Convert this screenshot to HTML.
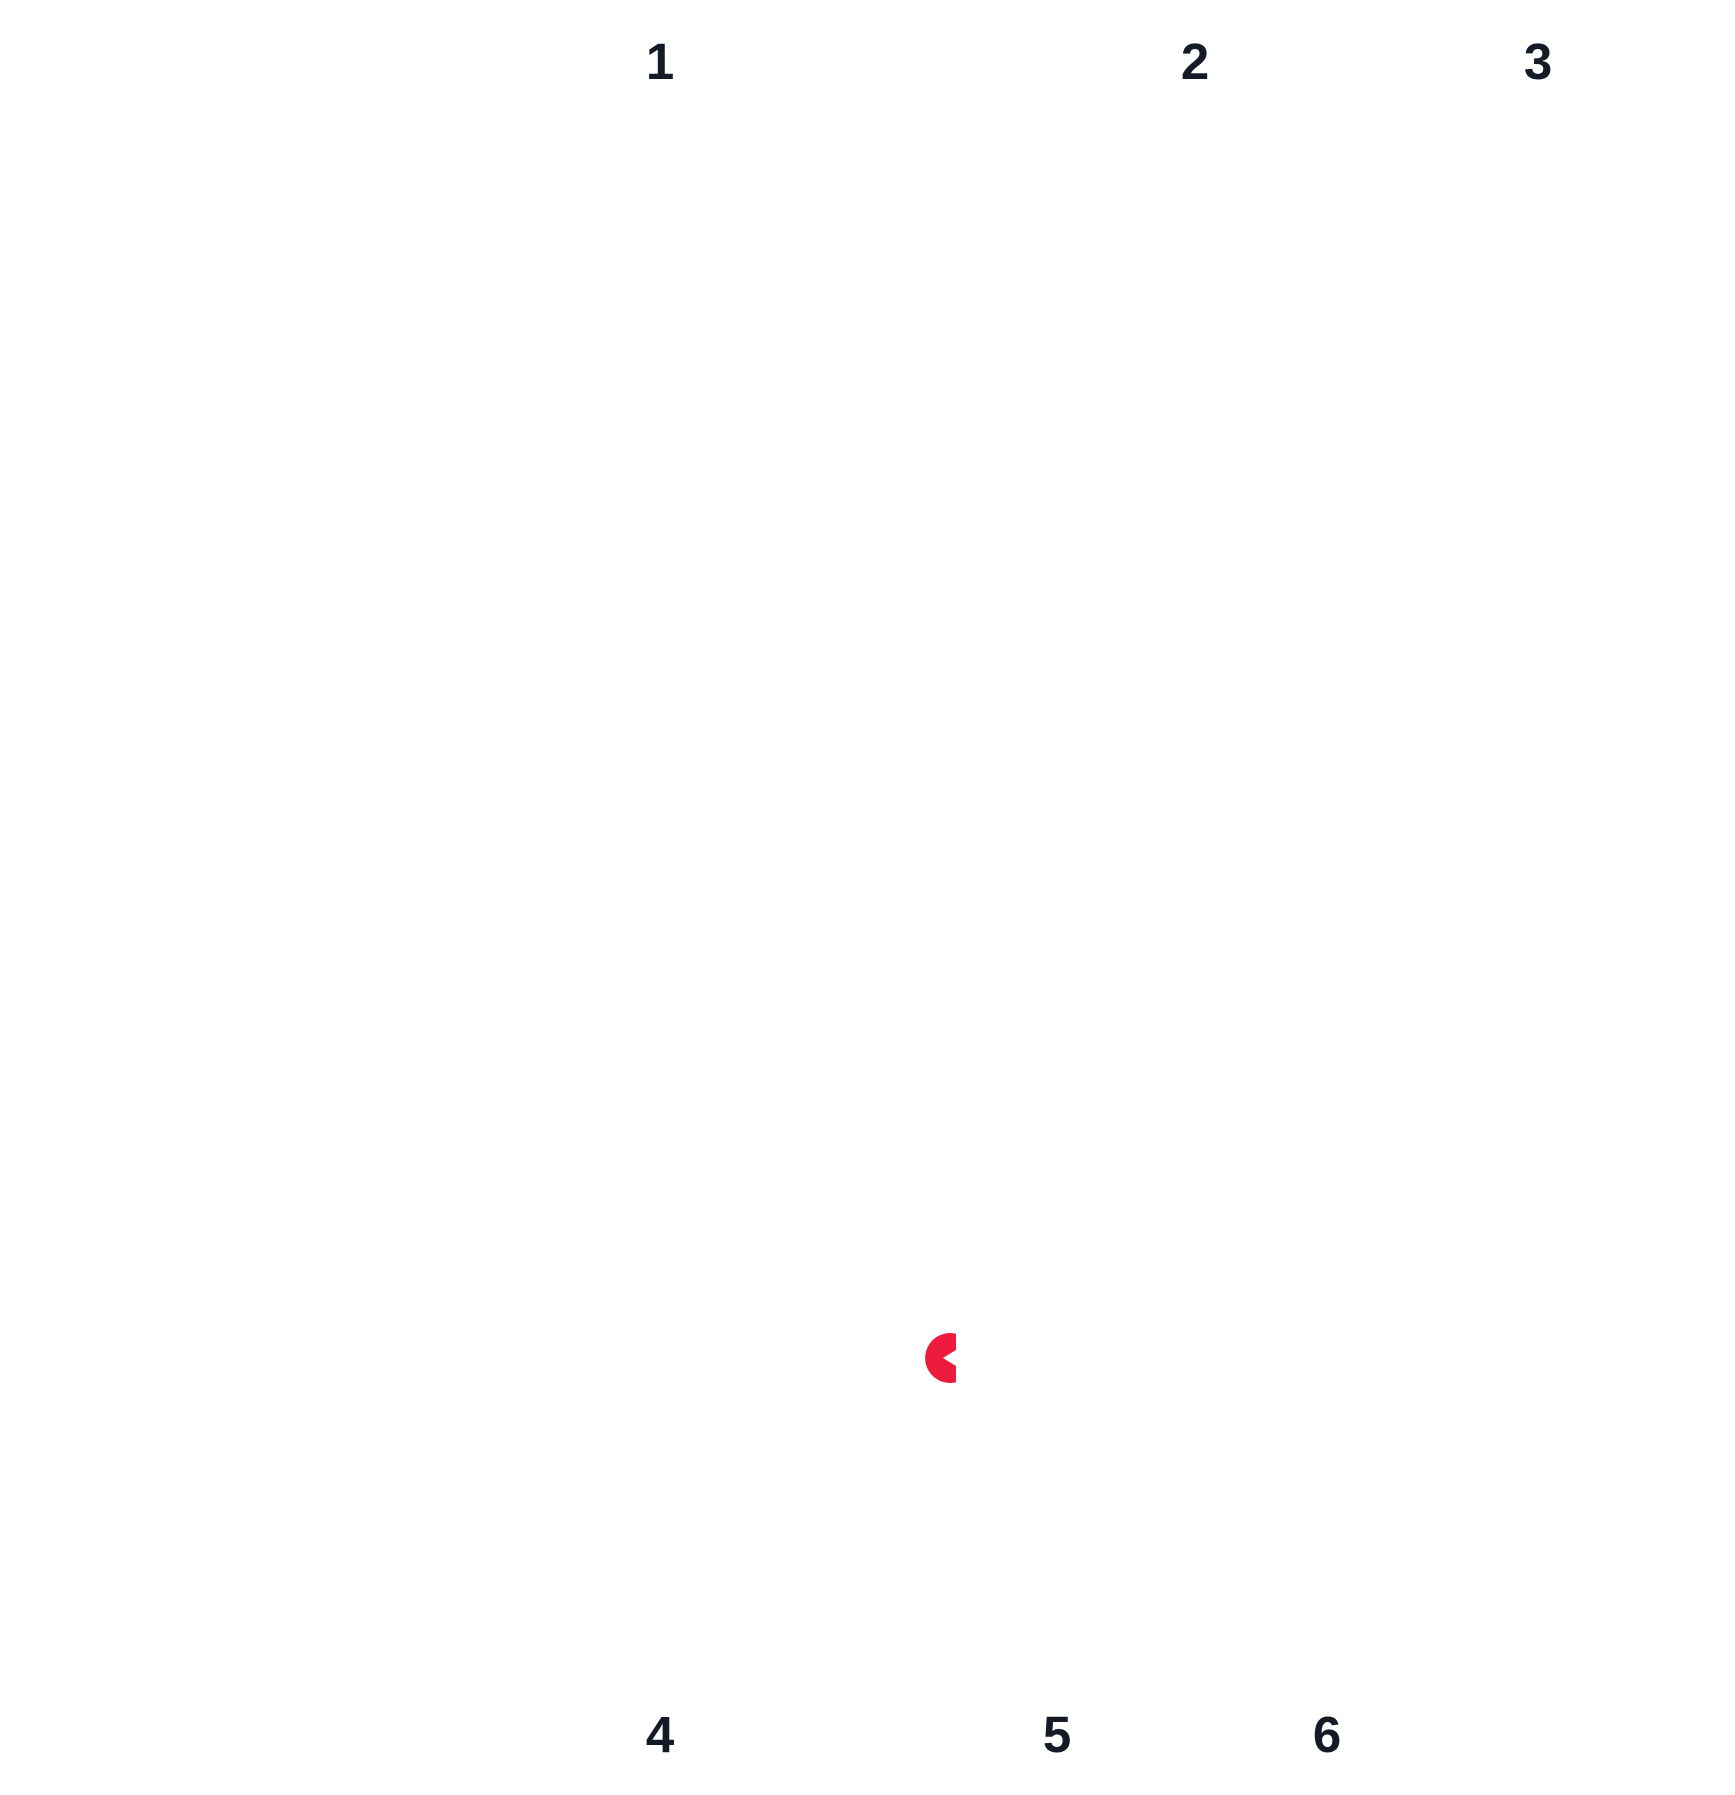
<!DOCTYPE html>
<html><head><meta charset="utf-8"><style>
html,body{margin:0;padding:0;background:#fff;}
svg{display:block;}
text{font-family:"Liberation Sans",sans-serif;font-weight:bold;font-size:51px;fill:#141a26;text-anchor:middle;}
</style></head><body>
<svg width="1735" height="1795" viewBox="0 0 1735 1795" xmlns="http://www.w3.org/2000/svg">
<rect width="1735" height="1795" fill="#fff"/>
<text x="660" y="79">1</text>
<text x="1195" y="79">2</text>
<text x="1538" y="79">3</text>
<text x="660" y="1752">4</text>
<text x="1057" y="1752">5</text>
<text x="1327" y="1752">6</text>
<path d="M956 1333.7 A25 25 0 1 0 956 1382.3 L956 1366 L943 1358 L956 1350 Z" fill="#ee1c3c"/>
</svg>
</body></html>
